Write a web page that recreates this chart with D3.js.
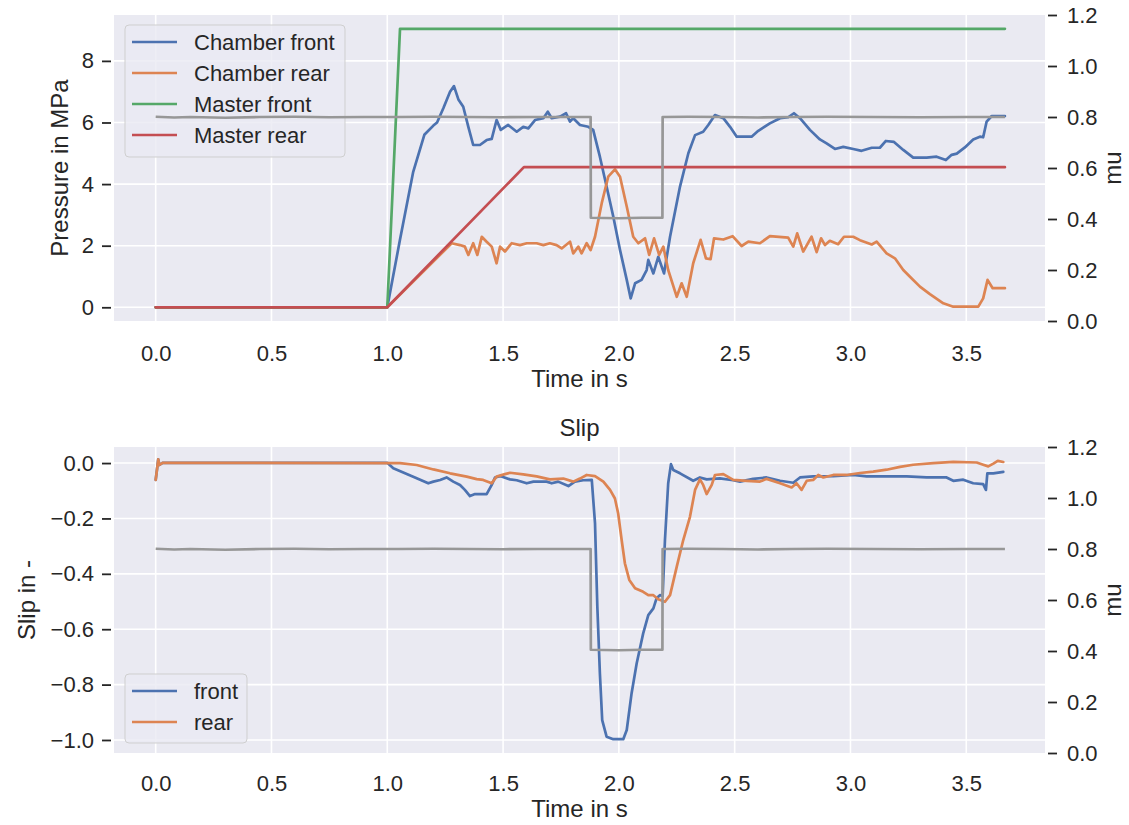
<!DOCTYPE html>
<html><head><meta charset="utf-8">
<script src="https://cdn.jsdelivr.net/npm/d3@7"></script>
<style>
body{margin:0;background:#fff;}
text{font-family:"Liberation Sans",Arial,sans-serif;fill:#262626;}
</style>
</head><body>
<svg id="c" width="1129" height="825"></svg>
<script>
// ---------------- data (time in s, value) ----------------
const chamberFront = [[0,0],[1.0,0],[1.055,2.2],[1.112,4.4],[1.16,5.6],[1.199,5.9],[1.215,6.0],[1.242,6.46],[1.271,7.0],[1.288,7.18],[1.307,6.75],[1.328,6.51],[1.35,5.86],[1.371,5.27],[1.40,5.27],[1.429,5.43],[1.451,5.47],[1.472,6.08],[1.49,5.76],[1.522,5.92],[1.559,5.70],[1.587,5.86],[1.609,5.81],[1.638,6.08],[1.674,6.14],[1.693,6.35],[1.710,6.14],[1.746,6.19],[1.772,6.30],[1.789,6.03],[1.803,6.14],[1.832,5.92],[1.868,5.86],[1.889,5.76],[1.918,4.89],[1.947,3.92],[1.976,2.94],[2.005,1.86],[2.034,0.89],[2.051,0.29],[2.07,0.78],[2.098,0.89],[2.12,1.21],[2.127,1.54],[2.149,1.10],[2.17,1.64],[2.195,1.10],[2.221,2.29],[2.264,3.92],[2.30,5.0],[2.329,5.59],[2.364,5.70],[2.386,5.92],[2.415,6.24],[2.451,6.14],[2.48,5.86],[2.509,5.54],[2.573,5.54],[2.602,5.73],[2.652,5.97],[2.696,6.14],[2.731,6.17],[2.756,6.30],[2.782,6.14],[2.825,5.76],[2.868,5.45],[2.897,5.32],[2.933,5.14],[2.969,5.21],[3.012,5.14],[3.048,5.08],[3.092,5.18],[3.127,5.18],[3.153,5.40],[3.188,5.37],[3.228,5.11],[3.271,4.86],[3.329,4.86],[3.372,4.89],[3.412,4.78],[3.437,4.95],[3.459,4.99],[3.494,5.19],[3.53,5.45],[3.559,5.54],[3.573,5.52],[3.588,6.03],[3.61,6.21],[3.667,6.21]];
const chamberRear = [[0,0],[1.0,0],[1.278,2.08],[1.314,2.02],[1.335,1.97],[1.35,1.70],[1.371,2.08],[1.389,1.70],[1.408,2.29],[1.429,2.13],[1.451,1.97],[1.472,1.43],[1.487,1.97],[1.508,1.81],[1.537,2.08],[1.573,2.02],[1.602,2.08],[1.645,2.08],[1.674,2.02],[1.702,2.08],[1.731,2.02],[1.753,1.91],[1.789,2.13],[1.803,1.75],[1.825,1.97],[1.839,1.75],[1.861,2.08],[1.878,1.86],[1.897,2.29],[1.926,3.38],[1.954,4.24],[1.983,4.48],[2.005,4.24],[2.034,3.27],[2.062,2.29],[2.084,2.08],[2.113,2.24],[2.131,1.70],[2.152,2.24],[2.174,1.70],[2.192,1.97],[2.213,1.21],[2.25,0.34],[2.271,0.78],[2.293,0.34],[2.321,1.43],[2.353,2.19],[2.376,1.59],[2.396,1.56],[2.411,2.24],[2.451,2.20],[2.491,2.31],[2.53,1.99],[2.559,2.13],[2.609,2.08],[2.652,2.31],[2.731,2.26],[2.753,1.97],[2.77,2.40],[2.796,1.81],[2.832,2.29],[2.854,1.79],[2.873,2.24],[2.89,2.02],[2.911,2.16],[2.947,2.05],[2.972,2.29],[3.012,2.29],[3.041,2.18],[3.092,2.04],[3.113,2.13],[3.156,1.75],[3.192,1.59],[3.228,1.21],[3.257,0.99],[3.30,0.67],[3.343,0.43],[3.401,0.13],[3.444,0.02],[3.552,0.02],[3.573,0.29],[3.592,0.89],[3.614,0.62],[3.667,0.62]];
const masterFront = [[0,0],[1.0,0],[1.055,9.04],[3.667,9.04]];
const masterRear = [[0,0],[1.0,0],[1.59,4.55],[3.667,4.55]];
const mu = [[0,0.801],[0.08,0.798],[0.15,0.800],[0.3,0.797],[0.45,0.800],[0.6,0.801],[0.75,0.799],[0.9,0.800],[1.05,0.800],[1.2,0.801],[1.35,0.800],[1.5,0.799],[1.65,0.800],[1.8,0.800],[1.878,0.800],[1.879,0.405],[2.0,0.403],[2.1,0.405],[2.188,0.405],[2.189,0.800],[2.3,0.801],[2.45,0.800],[2.6,0.798],[2.75,0.800],[2.9,0.801],[3.1,0.800],[3.3,0.799],[3.5,0.800],[3.667,0.800]];
const slipFront = [[0,-0.061],[0.011,0.013],[0.016,-0.007],[0.03,0.001],[1.0,0.001],[1.026,-0.019],[1.112,-0.049],[1.177,-0.073],[1.199,-0.067],[1.228,-0.061],[1.256,-0.052],[1.285,-0.067],[1.314,-0.079],[1.335,-0.097],[1.357,-0.119],[1.379,-0.112],[1.429,-0.112],[1.451,-0.079],[1.465,-0.052],[1.487,-0.047],[1.53,-0.059],[1.559,-0.062],[1.602,-0.073],[1.631,-0.067],[1.688,-0.067],[1.71,-0.073],[1.738,-0.067],[1.782,-0.083],[1.81,-0.067],[1.846,-0.062],[1.883,-0.061],[1.897,-0.218],[1.907,-0.519],[1.918,-0.759],[1.928,-0.928],[1.947,-0.988],[1.976,-0.997],[2.019,-0.997],[2.034,-0.964],[2.055,-0.831],[2.077,-0.723],[2.105,-0.615],[2.127,-0.549],[2.149,-0.525],[2.163,-0.488],[2.177,-0.477],[2.189,-0.48],[2.199,-0.278],[2.213,-0.073],[2.225,-0.004],[2.235,-0.025],[2.264,-0.037],[2.321,-0.064],[2.35,-0.052],[2.379,-0.059],[2.436,-0.055],[2.494,-0.062],[2.523,-0.067],[2.58,-0.057],[2.638,-0.052],[2.696,-0.064],[2.753,-0.071],[2.782,-0.052],[2.839,-0.048],[2.926,-0.047],[3.012,-0.043],[3.07,-0.048],[3.156,-0.048],[3.243,-0.048],[3.329,-0.052],[3.415,-0.052],[3.444,-0.064],[3.487,-0.06],[3.53,-0.073],[3.573,-0.076],[3.585,-0.097],[3.591,-0.037],[3.617,-0.037],[3.66,-0.032]];
const slipRear = [[0,-0.061],[0.011,0.013],[0.016,-0.007],[0.03,0.001],[1.055,0.0],[1.127,-0.007],[1.199,-0.023],[1.271,-0.037],[1.343,-0.049],[1.386,-0.058],[1.414,-0.061],[1.451,-0.073],[1.472,-0.049],[1.508,-0.040],[1.53,-0.035],[1.587,-0.041],[1.645,-0.048],[1.702,-0.059],[1.76,-0.056],[1.803,-0.067],[1.832,-0.056],[1.861,-0.043],[1.897,-0.047],[1.933,-0.067],[1.962,-0.097],[1.983,-0.128],[1.997,-0.182],[2.012,-0.278],[2.026,-0.362],[2.045,-0.422],[2.07,-0.452],[2.105,-0.465],[2.127,-0.477],[2.149,-0.477],[2.17,-0.492],[2.199,-0.501],[2.221,-0.477],[2.25,-0.374],[2.278,-0.278],[2.307,-0.194],[2.329,-0.097],[2.35,-0.059],[2.364,-0.079],[2.379,-0.112],[2.401,-0.079],[2.415,-0.043],[2.451,-0.040],[2.494,-0.061],[2.552,-0.064],[2.609,-0.067],[2.638,-0.057],[2.696,-0.073],[2.746,-0.088],[2.767,-0.073],[2.789,-0.097],[2.811,-0.064],[2.839,-0.061],[2.861,-0.043],[2.883,-0.052],[2.926,-0.043],[2.983,-0.043],[3.041,-0.036],[3.098,-0.031],[3.156,-0.024],[3.214,-0.014],[3.271,-0.006],[3.358,0.0],[3.444,0.004],[3.545,0.002],[3.573,-0.006],[3.595,-0.012],[3.617,-0.002],[3.636,0.008],[3.66,0.004]];

const timeTicks = [0,0.5,1.0,1.5,2.0,2.5,3.0,3.5];
const pressureTicks = [0,2,4,6,8];
const slipTicks = [0,-0.2,-0.4,-0.6,-0.8,-1.0];
const muTicks = [0,0.2,0.4,0.6,0.8,1.0,1.2];
const topLegend = ["Chamber front","Chamber rear","Master front","Master rear"];
const bottomLegend = ["front","rear"];

// ---------------- drawing ----------------
const C = {blue:"#4c72b0", orange:"#dd8452", green:"#55a868", red:"#c44e52", grey:"#979797", bg:"#eaeaf2", text:"#262626"};
const svg = d3.select("#c");
const L = 114, R = 1045;
const x = d3.scaleLinear().domain([-0.180, 3.840]).range([L, R]);
const fmt1 = v => d3.format(".1f")(v).replace("-", "\u2212");
const TICK_FS = 22, LABEL_FS = 24;

function panel(o){
  const g = svg.append("g");
  const yL = d3.scaleLinear().domain(o.leftDomain).range([o.y1, o.y0]);
  const yR = d3.scaleLinear().domain([0, 1.2]).range([o.y1, o.y0]);
  g.append("rect").attr("x", L).attr("y", o.y0).attr("width", R - L).attr("height", o.y1 - o.y0).attr("fill", C.bg);
  // grid
  g.append("g").selectAll("line").data(timeTicks).join("line")
    .attr("x1", d => x(d)).attr("x2", d => x(d)).attr("y1", o.y0).attr("y2", o.y1)
    .attr("stroke", "#fff").attr("stroke-width", 1.6);
  g.append("g").selectAll("line").data(o.leftTicks).join("line")
    .attr("x1", L).attr("x2", R).attr("y1", d => yL(d)).attr("y2", d => yL(d))
    .attr("stroke", "#fff").attr("stroke-width", 1.6);
  // primary lines
  o.series.forEach(s => {
    g.append("path").datum(s.data)
      .attr("d", d3.line().x(d => x(d[0])).y(d => yL(d[1])))
      .attr("fill", "none").attr("stroke", s.color).attr("stroke-width", 2.7)
      .attr("stroke-linejoin", "round").attr("stroke-linecap", "round");
  });
  // legend
  const lg = g.append("g");
  lg.append("rect").attr("x", o.legend.x).attr("y", o.legend.y).attr("width", o.legend.w).attr("height", o.legend.h)
    .attr("rx", 4).attr("fill", C.bg).attr("fill-opacity", 0.8).attr("stroke", "#cfcfcf").attr("stroke-width", 1);
  o.series.forEach((s, i) => {
    const cy = o.legend.y + 17 + i * 31;
    lg.append("line").attr("x1", o.legend.x + 7).attr("x2", o.legend.x + 52).attr("y1", cy).attr("y2", cy)
      .attr("stroke", s.color).attr("stroke-width", 2.7);
    lg.append("text").attr("x", o.legend.x + 69).attr("y", cy).attr("dy", "0.35em")
      .attr("font-size", TICK_FS).text(o.labels[i]);
  });
  // twin mu line
  g.append("path").datum(mu)
    .attr("d", d3.line().x(d => x(d[0])).y(d => yR(d[1])))
    .attr("fill", "none").attr("stroke", C.grey).attr("stroke-width", 2.7).attr("stroke-linejoin", "round");
  // axes
  const axL = g.append("g").attr("transform", `translate(111,0)`)
    .call(d3.axisLeft(yL).tickValues(o.leftTicks).tickSize(9).tickPadding(8).tickFormat(o.leftFmt));
  const axR = g.append("g").attr("transform", `translate(1048,0)`)
    .call(d3.axisRight(yR).tickValues(muTicks).tickSize(9).tickPadding(10).tickFormat(fmt1));
  const axB = g.append("g").attr("transform", `translate(0,${o.y1})`)
    .call(d3.axisBottom(x).tickValues(timeTicks).tickSize(0).tickPadding(o.xPad).tickFormat(fmt1));
  [axL, axR, axB].forEach(a => {
    a.select(".domain").remove();
    a.selectAll("line").attr("stroke", C.text).attr("stroke-width", 1.8);
    a.selectAll("text").attr("font-size", TICK_FS).attr("fill", C.text).style("font-family", '"Liberation Sans",Arial,sans-serif');
  });
  // labels
  g.append("text").attr("x", (L + R) / 2).attr("y", o.xLabelY).attr("text-anchor", "middle").attr("font-size", LABEL_FS).text("Time in s");
  g.append("text").attr("transform", `translate(${o.yLabelX},${(o.y0 + o.y1) / 2}) rotate(-90)`)
    .attr("text-anchor", "middle").attr("font-size", LABEL_FS).text(o.yLabel);
  g.append("text").attr("transform", `translate(1121,${(o.y0 + o.y1) / 2}) rotate(-90)`)
    .attr("text-anchor", "middle").attr("font-size", LABEL_FS).text("mu");
  if (o.title) g.append("text").attr("x", (L + R) / 2).attr("y", o.y0 - 11).attr("text-anchor", "middle").attr("font-size", LABEL_FS).text(o.title);
}

panel({
  y0: 15, y1: 321, leftDomain: [-0.445, 9.49], leftTicks: pressureTicks, leftFmt: d3.format("d"),
  series: [{data: chamberFront, color: C.blue}, {data: chamberRear, color: C.orange}, {data: masterFront, color: C.green}, {data: masterRear, color: C.red}],
  labels: topLegend, legend: {x: 125, y: 25, w: 220, h: 132},
  xPad: 24, xLabelY: 387, yLabel: "Pressure in MPa", yLabelX: 68
});
panel({
  y0: 447, y1: 753, leftDomain: [-1.047, 0.058], leftTicks: slipTicks, leftFmt: fmt1,
  series: [{data: slipFront, color: C.blue}, {data: slipRear, color: C.orange}],
  labels: bottomLegend, legend: {x: 125, y: 674, w: 122, h: 69},
  xPad: 22, xLabelY: 817, yLabel: "Slip in -", yLabelX: 35, title: "Slip"
});
</script>
</body></html>
